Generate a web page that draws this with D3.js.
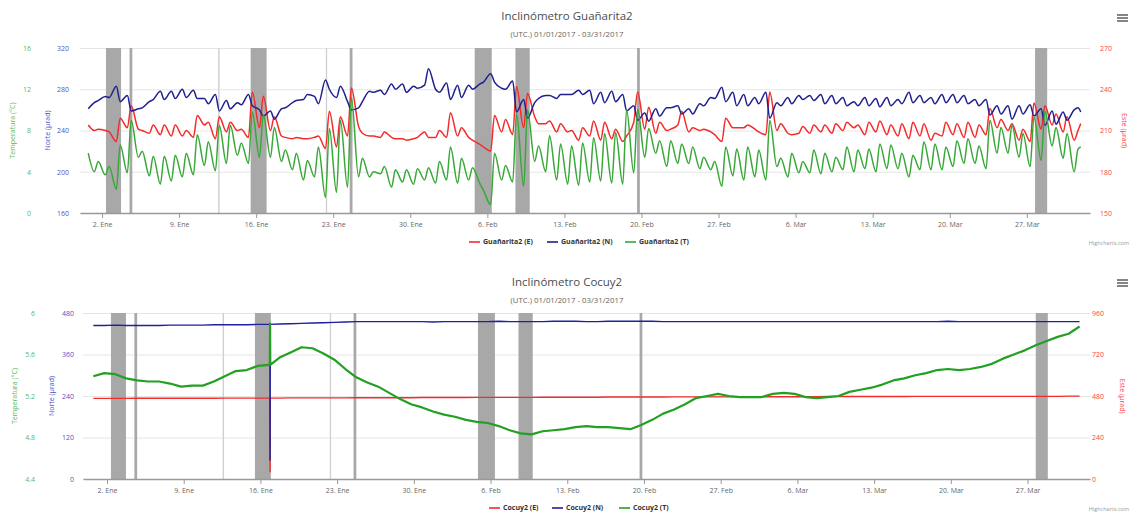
<!DOCTYPE html>
<html>
<head>
<meta charset="utf-8">
<script src="https://cdn.jsdelivr.net/npm/d3@7"></script>
<style>
  body { margin: 0; background: #fff; }
  svg { font-family: "Open Sans", sans-serif; }
</style>
</head>
<body>
<svg id="chart" width="1131" height="513"></svg>
<script>
// ---- data ----
const monthNames = ["Ene", "Feb", "Mar"];

// Guañarita2: one start value, then per day a morning and an afternoon value, then one end value
const guaN = [261,
  267,269, 273,272, 283,268, 274,259, 261,262, 268,270, 278,270, 278,271, 280,272, 279,271,
  271,266, 275,259, 269,261, 267,265, 275,264, 260,254, 259,251, 261,262, 267,269, 270,275,
  273,266, 289,280, 272,283, 268,260, 262,268, 278,277, 279,275, 285,280, 285,277, 283,281,
  284,300, 280,277, 286,270, 284,272, 284,280, 285,287, 295,287, 281,280, 288,258, 270,252,
  267,271, 274,274, 271,275, 275,275, 279,275, 279,266, 277,267, 278,268, 275,259, 264,250,
  257,249, 261,254, 262,262, 264,256, 261,256, 266,264, 272,271, 282,268, 277,264, 275,264,
  272,266, 277,252, 267,264, 272,266, 274,270, 274,269, 275,266, 274,266, 272,264, 268,264,
  272,264, 271,263, 272,264, 270,266, 277,267, 274,267, 272,266, 275,267, 275,267, 274,266,
  270,264, 270,255, 264,256, 264,251, 264,256, 265,254, 261,245, 259,246, 258,250, 260,262,
  258];
const guaE = [214,
  210,211, 210,209, 202,219, 212,228, 211,210, 208,214, 207,214, 206,214, 206,210, 205,221,
  214,216, 204,220, 209,216, 210,211, 205,238, 212,235, 210,220, 206,205, 204,205, 204,204,
  205,206, 197,224, 198,220, 206,241, 213,208, 206,206, 205,209, 205,204, 204,203, 204,205,
  209,205, 205,210, 205,223, 206,212, 205,203, 200,198, 195,221, 209,218, 207,242, 212,237,
  220,215, 215,217, 209,215, 209,210, 203,212, 206,217, 203,216, 204,211, 202,206, 216,238,
  211,227, 208,216, 210,211, 214,224, 209,212, 210,211, 209,207, 202,219, 212,212, 212,214,
  211,209, 207,238, 210,215, 208,207, 208,213, 208,214, 209,214, 208,215, 210,216, 212,214,
  207,216, 209,217, 207,214, 206,215, 204,216, 206,215, 203,208, 206,216, 207,215, 205,216,
  205,214, 207,226, 212,218, 210,215, 203,211, 202,230, 211,228, 214,222, 209,220, 203,210,
  215];
const guaT = [5.8,
  4.0,5.0, 3.7,4.5, 2.3,6.6, 3.9,9.0, 5.4,6.0, 3.6,5.5, 2.8,5.5, 3.1,5.6, 3.5,5.8, 3.7,7.6,
  4.6,6.9, 4.1,8.5, 4.8,8.5, 5.6,6.8, 4.8,9.8, 5.4,9.5, 5.4,8.3, 5.0,6.1, 4.2,5.8, 3.2,5.1,
  3.5,6.4, 1.5,8.2, 2.0,9.0, 2.5,11.2, 3.5,5.3, 3.5,4.0, 3.8,4.5, 2.5,4.2, 3.0,4.2, 2.8,4.3,
  3.2,4.4, 2.9,5.0, 3.2,6.4, 2.9,5.3, 3.2,4.4, 2.9,2.2, 0.8,5.8, 3.2,4.6, 3.0,9.6, 2.6,10.0,
  5.0,6.5, 4.0,7.5, 3.2,6.7, 2.8,6.5, 2.7,6.8, 3.0,7.3, 3.1,7.7, 2.9,7.8, 2.8,10.0, 3.9,10.1,
  5.4,8.2, 5.8,7.0, 4.5,7.0, 4.8,6.7, 4.8,6.4, 4.3,5.4, 4.2,5.0, 2.6,6.4, 3.6,6.2, 3.2,6.4,
  3.5,6.1, 3.2,9.0, 4.5,5.3, 3.5,5.8, 3.9,5.0, 3.9,6.1, 3.8,5.8, 4.0,5.4, 4.2,6.4, 4.0,6.1,
  4.3,6.2, 4.0,6.7, 4.3,6.6, 4.3,5.8, 3.5,5.6, 4.2,6.9, 4.2,6.7, 4.2,6.4, 4.5,7.0, 4.8,7.2,
  4.8,6.5, 4.3,9.0, 5.8,8.3, 5.8,8.5, 5.4,7.7, 4.5,9.3, 5.1,9.9, 6.5,8.3, 5.3,7.7, 4.0,6.2,
  6.4];

// Cocuy2: one value per day
const cocT = [
  5.39,5.42,5.41,5.37,5.35,5.34,5.34,5.32,5.29,5.30, 5.30,5.34,5.39,5.44,5.45,5.49,5.50,5.57,5.62,5.67,
  5.66,5.61,5.55,5.46,5.38,5.33,5.29,5.23,5.17,5.12, 5.09,5.05,5.02,5.00,4.97,4.95,4.94,4.91,4.87,4.84,
  4.83,4.86,4.87,4.88,4.90,4.91,4.90,4.90,4.89,4.88, 4.92,4.97,5.03,5.07,5.12,5.18,5.20,5.22,5.20,5.19,
  5.19,5.19,5.22,5.23,5.22,5.19,5.18,5.19,5.20,5.24, 5.26,5.28,5.31,5.35,5.37,5.40,5.42,5.45,5.46,5.45,
  5.46,5.48,5.51,5.56,5.60,5.64,5.69,5.73,5.77,5.80, 5.87];
const cocN = [
  444,444,445,444,444,444,444,445,445,445, 445,446,446,446,446,447,447,448,449,450,
  451,452,453,454,455,455,455,455,455,455, 455,454,455,455,455,455,455,456,455,455,
  455,455,456,456,456,455,455,456,456,456, 456,456,455,455,455,455,455,455,455,455,
  455,455,455,455,455,455,455,455,455,455, 455,455,455,455,455,455,455,455,456,455,
  455,455,455,455,455,455,455,455,455,455, 455];
const cocE = [
  466,466,466,466,467,467,467,467,467,467, 467,467,468,468,468,468,468,468,469,469,
  469,469,469,469,470,470,470,470,470,470, 471,471,471,471,471,472,472,472,472,472,
  472,473,473,473,473,473,473,474,474,474, 474,474,474,475,475,475,475,475,475,475,
  476,476,476,476,476,476,476,477,477,477, 477,477,477,477,477,478,478,478,478,478,
  478,478,478,478,478,478,478,478,478,479, 479];
// the short glitch on 16 Ene
const cocGlitchDays = [15.86, 15.88, 15.9];
const cocGlitchE = [468, 42, 468];
const cocGlitchN = [447, 55, 447];
const cocGlitchT = [5.5, 5.9, 5.5];

// grey bands (days since 1 Jan), faint ones separately
const bands = [[1.36, 2.73], [3.5, 3.75], [14.5, 15.95], [23.5, 23.75], [34.85, 36.4], [38.55, 39.85], [49.6, 49.85], [85.75, 86.85]];
const faintBands = [[11.55, 11.68], [21.33, 21.45]];

const guaTicksN = [160, 200, 240, 280, 320];
const guaTicksT = [0, 4, 8, 12, 16];
const guaTicksE = [150, 180, 210, 240, 270];
const cocTicksN = [0, 120, 240, 360, 480];
const cocTicksT = [4.4, 4.8, 5.2, 5.6, 6];
const cocTicksE = [0, 240, 480, 720, 960];

// ---- helpers ----
const t0 = Date.UTC(2017, 0, 1);
const toDate = d => new Date(t0 + d * 864e5);
const svg = d3.select('#chart');

const guaDays = [-0.25].concat(d3.range(90).flatMap(d => [d + 0.3, d + 0.65]), [89.9]);
const cocDays = d3.range(91).map(k => k - 0.25);

function zipSeries(days, values, extraDays, extraValues) {
  let pts = days.map((d, i) => ({day: d, v: values[i]}));
  if (extraDays) {
    pts = pts.concat(extraDays.map((d, i) => ({day: d, v: extraValues[i]})));
    pts.sort((a, b) => a.day - b.day);
  }
  return pts;
}

function createChart(c) {
  const g = svg.append('g');
  const p = c.plot;

  const x = d3.scaleUtc()
    .domain([toDate(c.xDomain[0]), toDate(c.xDomain[1])])
    .range([p.l, p.r]);
  const yN = d3.scaleLinear().domain(d3.extent(c.ticksN)).range([p.b, p.t]);
  const yT = d3.scaleLinear().domain(d3.extent(c.ticksT)).range([p.b, p.t]);
  const yE = d3.scaleLinear().domain(d3.extent(c.ticksE)).range([p.b, p.t]);

  // title
  g.append('text').attr('x', 567).attr('y', c.titleY)
    .attr('text-anchor', 'middle').attr('font-size', 11.5).attr('fill', '#4d4d4d')
    .text(c.title);
  g.append('text').attr('x', 567).attr('y', c.titleY + 17)
    .attr('text-anchor', 'middle').attr('font-size', 7.8).attr('fill', '#666')
    .text('(UTC.) 01/01/2017 - 03/31/2017');

  // menu icon
  [0, 3, 6].forEach(o => {
    g.append('line').attr('x1', 1117).attr('x2', 1128)
      .attr('y1', c.menuY + o).attr('y2', c.menuY + o)
      .attr('stroke', '#666').attr('stroke-width', 1.6);
  });

  // grid
  g.append('g').selectAll('line').data(c.ticksN).join('line')
    .attr('x1', p.l).attr('x2', p.r)
    .attr('y1', d => yN(d) + 0.5).attr('y2', d => yN(d) + 0.5)
    .attr('stroke', '#e6e6e6').attr('stroke-width', 1);

  // bands
  g.append('g').selectAll('rect').data(bands).join('rect')
    .attr('x', d => x(toDate(d[0]))).attr('y', p.t)
    .attr('width', d => x(toDate(d[1])) - x(toDate(d[0]))).attr('height', p.b - p.t)
    .attr('fill', '#a8a8a8');
  g.append('g').selectAll('rect').data(faintBands).join('rect')
    .attr('x', d => x(toDate(d[0]))).attr('y', p.t)
    .attr('width', d => x(toDate(d[1])) - x(toDate(d[0]))).attr('height', p.b - p.t)
    .attr('fill', '#d0d0d0');

  // x axis
  const xAxis = g.append('g')
    .attr('transform', 'translate(0,' + p.b + ')')
    .call(d3.axisBottom(x)
      .tickValues(d3.utcMonday.range(toDate(0), toDate(90)))
      .tickFormat(d => d.getUTCDate() + '. ' + monthNames[d.getUTCMonth()])
      .tickSize(5).tickSizeOuter(0));
  xAxis.select('.domain').attr('stroke', '#999').attr('stroke-width', 1.6);
  xAxis.selectAll('.tick line').attr('stroke', '#999');
  xAxis.selectAll('.tick text').attr('font-size', 7).attr('fill', '#666')
    .attr('font-family', '"Open Sans", sans-serif').attr('dy', '0.9em');

  // y axes
  function yAxis(scale, ticks, xPos, side, color, fmt) {
    const ax = g.append('g').attr('transform', 'translate(' + xPos + ',0)')
      .call((side === 'left' ? d3.axisLeft(scale) : d3.axisRight(scale))
        .tickValues(ticks).tickSize(0).tickPadding(0).tickFormat(fmt));
    ax.select('.domain').remove();
    ax.selectAll('.tick text').attr('font-size', 7).attr('fill', color)
      .attr('font-family', '"Open Sans", sans-serif');
  }
  yAxis(yT, c.ticksT, c.tX, 'left', '#5cb85c', d3.format('~g'));
  yAxis(yN, c.ticksN, c.nX, 'left', '#5252c0', d3.format('d'));
  yAxis(yE, c.ticksE, c.eX, 'right', '#ff4040', d3.format('d'));

  const midY = (p.t + p.b) / 2;
  function axisTitle(txt, xPos, rot, color) {
    g.append('text').attr('transform', 'translate(' + xPos + ',' + midY + ') rotate(' + rot + ')')
      .attr('text-anchor', 'middle').attr('dy', '0.35em')
      .attr('font-size', 7).attr('fill', color).text(txt);
  }
  axisTitle('Temperatura (°C)', c.tTitleX, -90, '#5cb85c');
  axisTitle('Norte (µrad)', c.nTitleX, -90, '#5252c0');
  axisTitle('Este (µrad)', c.eTitleX, 90, '#ff4040');

  // series
  const clipId = 'clip' + c.menuY;
  g.append('clipPath').attr('id', clipId).append('rect')
    .attr('x', p.l).attr('y', p.t - 2).attr('width', p.r - p.l).attr('height', p.b - p.t + 4);
  const sg = g.append('g').attr('clip-path', 'url(#' + clipId + ')');
  c.series.forEach(s => {
    const y = s.axis === 'N' ? yN : (s.axis === 'T' ? yT : yE);
    const line = d3.line().x(d => x(toDate(d.day))).y(d => y(d.v)).curve(c.curve);
    sg.append('path').datum(s.points)
      .attr('d', line).attr('fill', 'none')
      .attr('stroke', s.color).attr('stroke-width', s.width)
      .attr('stroke-linejoin', 'round');
  });

  // legend
  c.series.forEach((s, i) => {
    const lx = c.legendX[i];
    g.append('line').attr('x1', lx).attr('x2', lx + 11)
      .attr('y1', c.legendY).attr('y2', c.legendY)
      .attr('stroke', s.color).attr('stroke-width', 1.6);
    g.append('text').attr('x', lx + 14).attr('y', c.legendY).attr('dy', '0.35em')
      .attr('font-size', 7).attr('font-weight', 'bold').attr('fill', '#333')
      .text(s.name);
  });

  // credits
  g.append('text').attr('x', 1129).attr('y', c.creditY).attr('text-anchor', 'end')
    .attr('font-size', 5.5).attr('fill', '#999').text('Highcharts.com');
}

createChart({
  title: 'Inclinómetro Guañarita2', titleY: 20, menuY: 15,
  plot: {l: 80, r: 1090, t: 48, b: 213},
  xDomain: [-1, 90.74],
  ticksN: guaTicksN, ticksT: guaTicksT, ticksE: guaTicksE,
  tX: 31, nX: 69, eX: 1100, tTitleX: 13, nTitleX: 48, eTitleX: 1124,
  curve: d3.curveMonotoneX,
  series: [
    {name: 'Guañarita2 (E)', axis: 'E', color: '#f52a2a', width: 1.5, points: zipSeries(guaDays, guaE)},
    {name: 'Guañarita2 (N)', axis: 'N', color: '#1f1f8f', width: 1.5, points: zipSeries(guaDays, guaN)},
    {name: 'Guañarita2 (T)', axis: 'T', color: '#38a838', width: 1.5, points: zipSeries(guaDays, guaT)}
  ],
  legendX: [469, 547, 625], legendY: 242, creditY: 245
});

createChart({
  title: 'Inclinómetro Cocuy2', titleY: 286, menuY: 280,
  plot: {l: 83, r: 1090, t: 313, b: 479},
  xDomain: [-1.19, 90.7],
  ticksN: cocTicksN, ticksT: cocTicksT, ticksE: cocTicksE,
  tX: 35, nX: 74, eX: 1092, tTitleX: 15, nTitleX: 52, eTitleX: 1122,
  curve: d3.curveLinear,
  series: [
    {name: 'Cocuy2 (E)', axis: 'E', color: '#f52a2a', width: 1.4, points: zipSeries(cocDays, cocE, cocGlitchDays, cocGlitchE)},
    {name: 'Cocuy2 (N)', axis: 'N', color: '#1f1fa0', width: 1.4, points: zipSeries(cocDays, cocN, cocGlitchDays, cocGlitchN)},
    {name: 'Cocuy2 (T)', axis: 'T', color: '#22a022', width: 2.2, points: zipSeries(cocDays, cocT, cocGlitchDays, cocGlitchT)}
  ],
  legendX: [489, 552, 619], legendY: 508, creditY: 511
});
</script>
</body>
</html>
